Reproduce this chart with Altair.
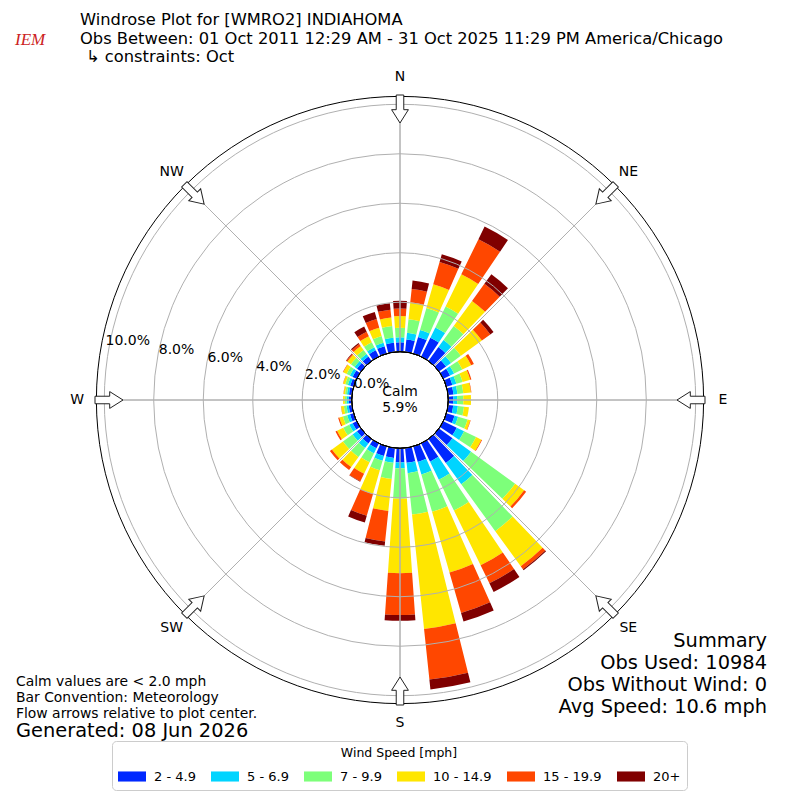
import math
import altair as alt
import pandas as pd

# ---------------- data (percent of observations) ----------------
DIRECTIONS = [0, 10, 20, 30, 40, 50, 60, 70, 80, 90, 100, 110, 120, 130, 140, 150, 160, 170,
              180, 190, 200, 210, 220, 230, 240, 250, 260, 270, 280, 290, 300, 310, 320, 330, 340, 350]
SPEED_BINS = ["2 - 4.9", "5 - 6.9", "7 - 9.9", "10 - 14.9", "15 - 19.9", "20+"]
COLORS = ["#0028ff", "#00d4ff", "#7dff7a", "#ffe600", "#ff4700", "#800000"]

PCT_2_5 = [0.38, 0.51, 0.70, 0.85, 0.69, 0.35, 0.30, 0.25, 0.22, 0.20, 0.21, 0.34, 0.60, 0.67, 1.20, 0.82, 0.65, 0.60,
           0.57, 0.40, 0.40, 0.22, 0.22, 0.20, 0.18, 0.15, 0.13, 0.12, 0.12, 0.14, 0.18, 0.20, 0.22, 0.28, 0.31, 0.37]
PCT_5_7 = [0.20, 0.27, 0.29, 0.46, 0.35, 0.25, 0.18, 0.17, 0.16, 0.16, 0.19, 0.15, 0.33, 0.93, 1.06, 0.81, 0.53, 0.42,
           0.24, 0.20, 0.20, 0.23, 0.23, 0.22, 0.15, 0.12, 0.09, 0.08, 0.08, 0.10, 0.12, 0.12, 0.13, 0.14, 0.15, 0.21]
PCT_7_10 = [0.39, 0.55, 0.93, 0.94, 0.70, 0.49, 0.37, 0.26, 0.24, 0.25, 0.25, 0.40, 0.54, 2.20, 2.34, 1.39, 1.57, 1.68,
            1.23, 0.66, 0.40, 0.40, 0.45, 0.48, 0.27, 0.18, 0.11, 0.08, 0.08, 0.11, 0.15, 0.18, 0.20, 0.23, 0.28, 0.48]
PCT_10_15 = [0.47, 0.69, 1.00, 1.45, 1.26, 1.05, 0.40, 0.32, 0.31, 0.31, 0.20, 0.11, 0.24, 0.45, 1.75, 2.46, 2.55, 4.65,
             3.01, 1.30, 1.00, 0.51, 0.50, 0.55, 0.28, 0.15, 0.11, 0.07, 0.06, 0.09, 0.15, 0.18, 0.20, 0.27, 0.35, 0.34]
PCT_15_20 = [0.31, 0.54, 0.93, 1.58, 0.85, 0.42, 0.12, 0.05, 0.02, 0.00, 0.00, 0.02, 0.03, 0.10, 0.15, 0.81, 1.70, 2.06,
             1.69, 1.24, 0.92, 0.34, 0.15, 0.10, 0.07, 0.05, 0.01, 0.00, 0.01, 0.01, 0.02, 0.05, 0.10, 0.20, 0.36, 0.32]
PCT_20_UP = [0.31, 0.34, 0.33, 0.57, 0.48, 0.16, 0.00, 0.00, 0.00, 0.00, 0.00, 0.00, 0.00, 0.00, 0.05, 0.39, 0.36, 0.40,
             0.23, 0.17, 0.28, 0.02, 0.00, 0.00, 0.00, 0.00, 0.00, 0.00, 0.00, 0.00, 0.00, 0.02, 0.05, 0.23, 0.30, 0.26]
SERIES = [PCT_2_5, PCT_5_7, PCT_7_10, PCT_10_15, PCT_15_20, PCT_20_UP]

CALM_PCT = 5.9
GRID_PCT = [2, 4, 6, 8, 10]
RADIAL_TICKS = [0, 2, 4, 6, 8, 10]
COMPASS = ["N", "NE", "E", "SE", "S", "SW", "W", "NW"]
COMPASS_DEG = [0, 45, 90, 135, 180, 225, 270, 315]

TITLE_LINES = ["Windrose Plot for [WMRO2] INDIAHOMA",
               "Obs Between: 01 Oct 2011 12:29 AM - 31 Oct 2025 11:29 PM America/Chicago",
               "\u21b3 constraints: Oct"]
NOTE_LINES = ["Calm values are < 2.0 mph", "Bar Convention: Meteorology",
              "Flow arrows relative to plot center."]
GENERATED = "Generated: 08 Jun 2026"
SUMMARY_LINES = ["Summary", "Obs Used: 10984", "Obs Without Wind: 0", "Avg Speed: 10.6 mph"]

# ---------------- geometry / style ----------------
FONT = "DejaVu Sans"
W = 784
CX = W / 2
R0 = 48.3            # pixel radius of the 0 % ring (calm circle)
PX_PER_PCT = 24.74
RMAX = 10.32         # outer edge of the polar axes, in percent
BAR_WIDTH = 8        # degrees
LABEL_PCT = 11.1
ARROW_PCT = 9.81
ARROW_SHAPE = "M0,1L0.6,0.05L0.27,0.05L0.27,-1L-0.27,-1L-0.27,0.05L-0.6,0.05Z"
LEGEND_SYMBOL = "M-1,-0.36L1,-0.36L1,0.36L-1,0.36Z"

theta_scale = alt.Scale(domain=[0, 360], range=[0, 2 * math.pi])
radius_scale = alt.Scale(type="linear", domain=[0, RMAX], range=[R0, R0 + PX_PER_PCT * RMAX], zero=False)

# ---------------- build tables ----------------
rows = []
for i, d in enumerate(DIRECTIONS):
    base = 0.0
    for k, (name, vals) in enumerate(zip(SPEED_BINS, SERIES)):
        v = vals[i]
        if v > 0:
            rows.append({"t0": d - BAR_WIDTH / 2, "t1": d + BAR_WIDTH / 2,
                         "r0": base, "r1": base + v, "speed": name})
        base += v
bars_df = pd.DataFrame(rows)

bars = alt.Chart(bars_df).mark_arc().encode(
    theta=alt.Theta("t0:Q", scale=theta_scale, stack=None),
    theta2="t1:Q",
    radius=alt.Radius("r1:Q", scale=radius_scale, stack=None),
    radius2="r0:Q",
    color=alt.Color("speed:N", scale=alt.Scale(domain=SPEED_BINS, range=COLORS),
                    legend=alt.Legend(title="Wind Speed [mph]", orient="none", legendX=104, legendY=733,
                                      direction="horizontal", columns=6, symbolType=LEGEND_SYMBOL,
                                      symbolSize=784, symbolStrokeWidth=0, symbolOpacity=1,
                                      labelFontSize=13, labelFont=FONT, labelOffset=8, labelColor="black",
                                      columnPadding=15, titleFontSize=12.5, titleFont=FONT,
                                      titleFontWeight="normal", titleColor="black", titleAnchor="middle",
                                      titlePadding=3, padding=6, fillColor="white", strokeColor="#cccccc",
                                      cornerRadius=4)),
)

full_df = pd.DataFrame({"v": GRID_PCT, "t0": 0, "t1": 360})
grid = alt.Chart(full_df).mark_arc(filled=False, stroke="#b0b0b0", strokeWidth=1).encode(
    theta=alt.Theta("t0:Q", scale=theta_scale, stack=None), theta2="t1:Q",
    radius=alt.Radius("v:Q", scale=radius_scale, stack=None),
)

spoke_df = pd.DataFrame({"a": COMPASS_DEG, "rin": 0.0, "rout": RMAX})
spokes = alt.Chart(spoke_df).mark_arc(filled=False, stroke="#b0b0b0", strokeWidth=1).encode(
    theta=alt.Theta("a:Q", scale=theta_scale, stack=None), theta2="a:Q",
    radius=alt.Radius("rout:Q", scale=radius_scale, stack=None), radius2="rin:Q",
)

outer_df = pd.DataFrame({"v": [RMAX], "t0": [0], "t1": [360]})
outer = alt.Chart(outer_df).mark_arc(filled=False, stroke="black", strokeWidth=1).encode(
    theta=alt.Theta("t0:Q", scale=theta_scale, stack=None), theta2="t1:Q",
    radius=alt.Radius("v:Q", scale=radius_scale, stack=None),
)

ar_px = R0 + PX_PER_PCT * ARROW_PCT
arrow_df = pd.DataFrame({"a": COMPASS_DEG})
arrow_df["ax"] = [ar_px * math.sin(math.radians(a)) for a in COMPASS_DEG]
arrow_df["ay"] = [ar_px * math.cos(math.radians(a)) for a in COMPASS_DEG]
arrows = alt.Chart(arrow_df).mark_point(shape=ARROW_SHAPE, filled=True, fill="white", stroke="#222222",
                                        strokeWidth=1, size=784, opacity=1).encode(
    x=alt.X("ax:Q", scale=alt.Scale(domain=[-CX, CX], nice=False, zero=False), axis=None),
    y=alt.Y("ay:Q", scale=alt.Scale(domain=[-CX, CX], nice=False, zero=False), axis=None),
    angle=alt.Angle("a:Q", scale=None),
)

calm_df = pd.DataFrame({"v": [0.0], "t0": [0], "t1": [360]})
calm = alt.Chart(calm_df).mark_arc(fill="white", stroke="black", strokeWidth=1).encode(
    theta=alt.Theta("t0:Q", scale=theta_scale, stack=None), theta2="t1:Q",
    radius=alt.Radius("v:Q", scale=radius_scale, stack=None),
)

dir_df = pd.DataFrame({"lab": COMPASS, "a": COMPASS_DEG, "r": LABEL_PCT})
dir_labels = alt.Chart(dir_df).mark_text(font=FONT, fontSize=14, align="center", baseline="middle",
                                         color="black").encode(
    theta=alt.Theta("a:Q", scale=theta_scale, stack=None),
    radius=alt.Radius("r:Q", scale=radius_scale, stack=None),
    text="lab:N",
)

tick_df = pd.DataFrame({"v": RADIAL_TICKS, "a": 280})
tick_df["lab"] = [f"{v:.1f}%" for v in RADIAL_TICKS]
tick_labels = alt.Chart(tick_df).mark_text(font=FONT, fontSize=14, align="center", baseline="middle",
                                           color="black", dx=19, dy=-7.6).encode(
    theta=alt.Theta("a:Q", scale=theta_scale, stack=None),
    radius=alt.Radius("v:Q", scale=radius_scale, stack=None),
    text="lab:N",
)


def text_line(txt, x, y, size, align="left", color="black", font=FONT, style="normal"):
    df = pd.DataFrame({"label": [txt]})
    return alt.Chart(df).mark_text(x=x, y=y, align=align, baseline="alphabetic", fontSize=size,
                                   font=font, color=color, fontStyle=style).encode(text="label:N")


texts = []
for txt, y in zip(TITLE_LINES, [17, 35.5, 54]):
    texts.append(text_line(txt, 72 if not txt.startswith("\u21b3") else 78, y, 16.3))
for txt, y in zip(NOTE_LINES, [678, 694, 709.5]):
    texts.append(text_line(txt, 8, y, 13.9))
texts.append(text_line(GENERATED, 8, 729, 19.4))
for txt, y in zip(SUMMARY_LINES, [639, 661, 683, 705]):
    texts.append(text_line(txt, 759, y, 19.4, align="right"))
texts.append(text_line("Calm", CX, 388, 13.9, align="center"))
texts.append(text_line(f"{CALM_PCT}%", CX, 404, 13.9, align="center"))
texts.append(text_line("IEM", 7, 37, 17, color="#cc2222", font="Liberation Serif", style="italic"))

chart = alt.layer(bars, grid, spokes, outer, arrows, calm, dir_labels, tick_labels, *texts).properties(
    width=W, height=W,
    padding={"left": 0, "top": 0, "right": 0, "bottom": 16},
    autosize=alt.AutoSizeParams(type="none"),
).configure_view(stroke=None)

chart.save("out.html", embed_options={"renderer": "svg", "actions": False})
